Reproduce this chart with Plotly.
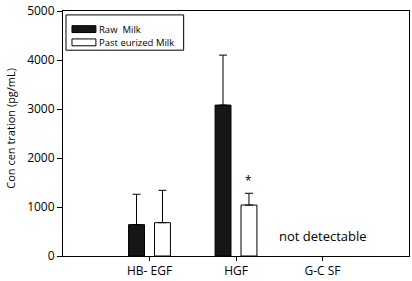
import plotly.graph_objects as go

categories = ["HB- EGF", "HGF", "G-C SF"]
raw_milk = [640, 3080, None]
raw_err = [620, 1020, None]
past_milk = [680, 1040, None]
past_err = [660, 240, None]
series_names = ["Raw  Milk", "Past eurized Milk"]
y_ticks = [0, 1000, 2000, 3000, 4000, 5000]

FONT = "Open Sans"
xpos = list(range(len(categories)))
colors = ["#161616", "white"]

fig = go.Figure()
fig.add_trace(go.Bar(
    x=xpos, y=raw_milk, name=series_names[0],
    marker=dict(color=colors[0], line=dict(color="black", width=1)),
    offset=-0.242, width=0.184,
    error_y=dict(type="data", symmetric=False, array=raw_err,
                 arrayminus=[0, 0, 0], color="black", thickness=1, width=4),
))
fig.add_trace(go.Bar(
    x=xpos, y=past_milk, name=series_names[1],
    marker=dict(color=colors[1], line=dict(color="black", width=1)),
    offset=0.058, width=0.184,
    error_y=dict(type="data", symmetric=False, array=past_err,
                 arrayminus=[0, 0, 0], color="black", thickness=1, width=4),
))

fig.add_annotation(x=1.15, y=1540, text="*", showarrow=False,
                   font=dict(family=FONT, size=12, color="black"))
fig.add_annotation(x=2, y=400, text="not detectable", showarrow=False,
                   font=dict(family=FONT, size=13, color="black"))
fig.add_annotation(xref="paper", yref="paper", x=(10 - 63) / 347, y=(257 - 127) / 250,
                   xanchor="center", yanchor="middle",
                   text="Con cen tration (pg/mL)", textangle=-90, showarrow=False,
                   font=dict(family=FONT, size=11, color="black"))

# legend box (drawn manually to match the reference's wide swatches)
def px(xp):
    return (xp - 63) / 347

def py(yp):
    return (257 - yp) / 250

fig.add_shape(type="rect", xref="paper", yref="paper",
              x0=px(66), x1=px(184), y0=py(47), y1=py(11),
              line=dict(color="black", width=1), fillcolor="white")
for i, (name, col) in enumerate(zip(series_names, colors)):
    yc = 25.5 + i * 13.5
    fig.add_shape(type="rect", xref="paper", yref="paper",
                  x0=px(72), x1=px(96), y0=py(yc + 3.5), y1=py(yc - 3.5),
                  line=dict(color="black", width=1), fillcolor=col)
    fig.add_annotation(xref="paper", yref="paper", x=px(97.5), y=py(yc),
                       xanchor="left", yanchor="middle", text=name, showarrow=False,
                       font=dict(family=FONT, size=9.5, color="black"))

fig.update_layout(
    width=412, height=281,
    margin=dict(l=63, r=2, t=7, b=24),
    paper_bgcolor="white", plot_bgcolor="white",
    font=dict(family=FONT, size=12, color="black"),
    showlegend=False,
    xaxis=dict(range=[-1, 3], tickmode="array", tickvals=xpos, ticktext=categories,
               showline=True, linecolor="black", linewidth=1, mirror=True,
               ticks="outside", ticklen=4, tickcolor="black", showgrid=False,
               zeroline=False, tickfont=dict(size=12), ticklabeloverflow="allow"),
    yaxis=dict(range=[0, 5000], tickmode="array", tickvals=y_ticks,
               ticktext=[str(v) for v in y_ticks],
               showline=True, linecolor="black", linewidth=1, mirror=True,
               ticks="outside", ticklen=5, tickcolor="black", showgrid=False,
               zeroline=False, tickfont=dict(size=12), ticklabeloverflow="allow"),
)

fig.write_html("out.html", config={"displayModeBar": False},
               post_script="document.body.style.margin='0';")
